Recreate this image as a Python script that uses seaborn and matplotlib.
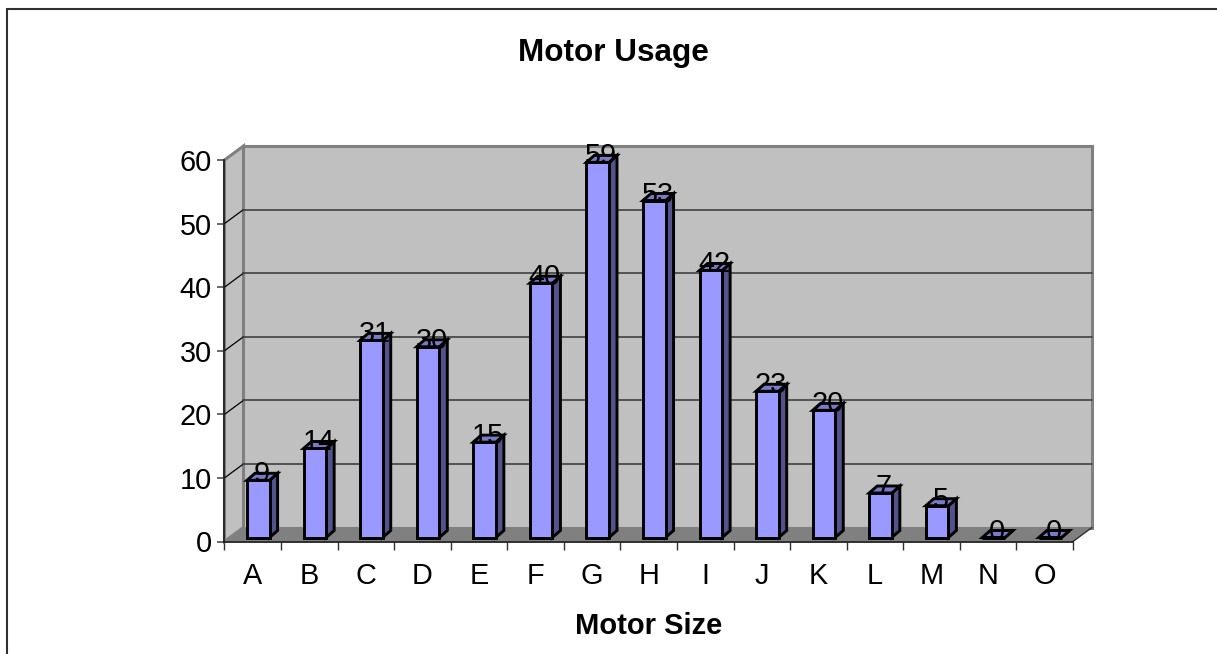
import matplotlib
matplotlib.use("Agg")
import matplotlib.pyplot as plt
import seaborn as sns
import pandas as pd
from matplotlib.patches import Polygon
from matplotlib.lines import Line2D

sizes = ["A", "B", "C", "D", "E", "F", "G", "H", "I", "J", "K", "L", "M", "N", "O"]
usage = [9, 14, 31, 30, 15, 40, 59, 53, 42, 23, 20, 7, 5, 0, 0]
y_ticks = [0, 10, 20, 30, 40, 50, 60]

W, H = 1217, 654
DEPTH_X, DEPTH_Y = 19, 14      # wall depth, pixels
BAR_DX, BAR_DY = 5.5, 4        # bars sit a little behind the front plane
TOP_DX, TOP_DY = 8, 7          # depth of one bar

sns.set_theme(style="white")
plt.rcParams["font.family"] = ["Liberation Sans", "DejaVu Sans"]

fig = plt.figure(figsize=(W / 100, H / 100), dpi=100)
left, right, top, bottom = 224.5, 1073, 160, 541.5
ax = fig.add_axes([left / W, 1 - bottom / H, (right - left) / W, (bottom - top) / H])
ax.patch.set_alpha(0)

df = pd.DataFrame({"size": sizes, "usage": usage})
sns.barplot(data=df, x="size", y="usage", width=0.4, color="#9999FF", saturation=1,
            edgecolor="black", linewidth=2.1, ax=ax, zorder=5)
ax.set_xlim(-0.5, len(sizes) - 0.5)
ax.set_ylim(0, 60)


def px(x, y, dx=0, dy=0):
    # data position -> figure pixels, dy goes up
    a, b = ax.transData.transform((x, y))
    return (a + dx, b + dy)


def poly(points, fc, ec="none", lw=0, z=1):
    p = Polygon(points, closed=True, facecolor=fc, edgecolor=ec, linewidth=lw,
                transform=None, clip_on=False, zorder=z, joinstyle="miter")
    ax.add_artist(p)


def line(a, b, color="#303030", lw=1.0, z=2):
    ax.add_artist(Line2D([a[0], b[0]], [a[1], b[1]], color=color, lw=lw,
                         transform=None, clip_on=False, zorder=z))


x0, x1 = -0.5, len(sizes) - 0.5
# back wall, side wall, floor
poly([px(x0, 0, DEPTH_X, DEPTH_Y), px(x1, 0, DEPTH_X, DEPTH_Y),
      px(x1, 60, DEPTH_X, DEPTH_Y), px(x0, 60, DEPTH_X, DEPTH_Y)], "#C0C0C0", "#808080", 2.2)
poly([px(x0, 0), px(x0, 0, DEPTH_X, DEPTH_Y), px(x0, 60, DEPTH_X, DEPTH_Y), px(x0, 60)],
     "#C0C0C0", "#808080", 2.2)
poly([px(x0, 0), px(x1, 0), px(x1, 0, DEPTH_X, DEPTH_Y), px(x0, 0, DEPTH_X, DEPTH_Y)], "#808080")
line(px(x1, 0), px(x1, 0, DEPTH_X, DEPTH_Y), lw=1.0)

# grid lines on the wall
for v in y_ticks[1:-1]:
    line(px(x0, v), px(x0, v, DEPTH_X, DEPTH_Y), color="black", lw=0.9)
    line(px(x0, v, DEPTH_X, DEPTH_Y), px(x1, v, DEPTH_X, DEPTH_Y), color="#404040", lw=1.2)

# push the bars back and give them a side and a lid
bars = list(ax.patches)
for bar, value in zip(bars, usage):
    l, w = bar.get_x(), bar.get_width()
    bar.remove()
    a = px(l, 0, BAR_DX, BAR_DY)
    b = px(l + w, 0, BAR_DX, BAR_DY)
    c = px(l + w, value, BAR_DX, BAR_DY)
    d = px(l, value, BAR_DX, BAR_DY)
    shift = lambda p: (p[0] + TOP_DX, p[1] + TOP_DY)
    poly([b, shift(b), shift(c), c], "#52528C", "black", 2.1, 5)
    poly([d, c, shift(c), shift(d)], "#7A7ACC", "black", 2.1, 5)
    poly([a, b, c, d], "#9999FF", "black", 2.1, 6)
    ax.text((d[0] + c[0]) / 2 + 3.5, c[1] + 6, str(value), transform=None, ha="center",
            va="center", fontsize=20.8, color="black", zorder=8, clip_on=False)

ax.set_xticks(range(len(sizes)), sizes)
ax.set_xticks([i - 0.5 for i in range(len(sizes) + 1)], minor=True)
ax.set_yticks(y_ticks)
ax.tick_params(axis="x", which="major", length=0, pad=14.5, labelsize=20.8, colors="black")
ax.tick_params(axis="x", which="minor", length=6, width=1.0, color="#303030", bottom=True)
ax.tick_params(axis="y", length=5, width=1.1, color="#404040", left=True, pad=4,
               labelsize=20.8, labelcolor="black")
sns.despine(ax=ax, top=True, right=True)
for side in ["left", "bottom"]:
    ax.spines[side].set_color("#202020")
    ax.spines[side].set_linewidth(1.3)
    ax.spines[side].set_zorder(3)

ax.set_xlabel("Motor Size", fontsize=21, fontweight="bold", labelpad=16, color="black")
ax.set_ylabel("")
fig.text(613.5 / W, 1 - 53.5 / H, "Motor Usage", ha="center", va="center",
         fontsize=22.7, fontweight="bold", color="black")

# chart frame: only the top and left edges fall inside the picture
frame = dict(color="#303030", lw=1.5, transform=fig.transFigure)
fig.add_artist(Line2D([7 / W, 7 / W], [0, 1 - 9 / H], **frame))
fig.add_artist(Line2D([7 / W, 1], [1 - 9 / H, 1 - 9 / H], **frame))

fig.savefig("out.png", dpi=100, facecolor="white")
